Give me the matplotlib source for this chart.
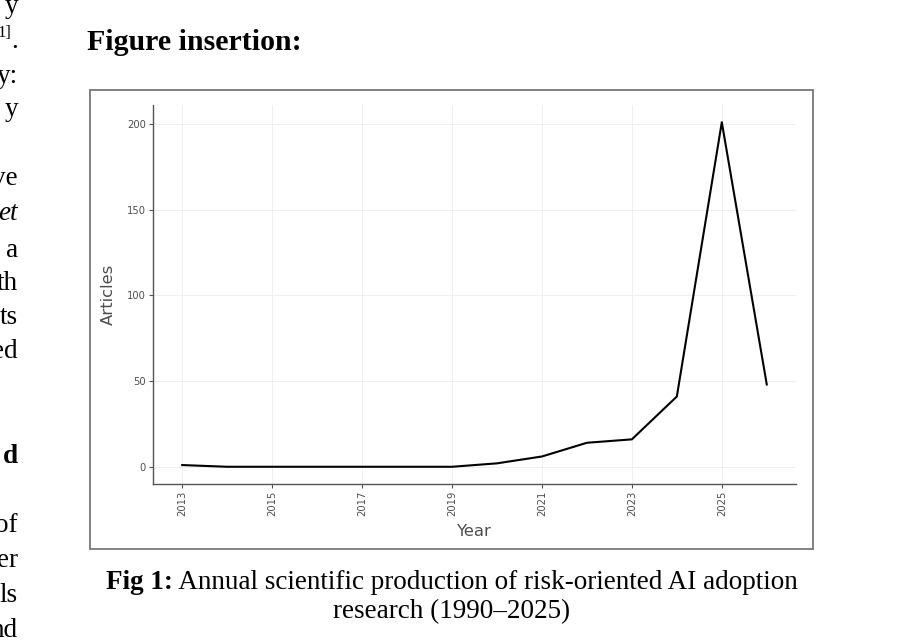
import matplotlib.pyplot as plt
import matplotlib.patches as patches

# data
years = [2013, 2014, 2015, 2016, 2017, 2018, 2019, 2020, 2021, 2022, 2023, 2024, 2025, 2026]
articles = [1, 0, 0, 0, 0, 0, 0, 2, 6, 14, 16, 41, 201, 48]
xticks = [2013, 2015, 2017, 2019, 2021, 2023, 2025]
yticks = [0, 50, 100, 150, 200]

W, H = 903, 640
serif = 'Liberation Serif'
gray = '#4d4d4d'
body = 19.5

fig = plt.figure(figsize=(W / 100, H / 100), dpi=100)
fig.patch.set_facecolor('white')

def fx(px):
    return px / W

def fy(py):
    return 1 - py / H

# cut-off body text on the left edge (right-aligned fragments)
left_lines = [
    (13, 'y', 'normal', 'normal'),
    (83, 'y:', 'normal', 'normal'),
    (116, 'y', 'normal', 'normal'),
    (185, 've', 'normal', 'normal'),
    (220, 'et', 'normal', 'italic'),
    (257, 'a', 'normal', 'normal'),
    (290, 'th', 'normal', 'normal'),
    (324, 'ts', 'normal', 'normal'),
    (358, 'ed', 'normal', 'normal'),
    (463, 'd', 'bold', 'normal'),
    (532, 'of', 'normal', 'normal'),
    (567, 'er', 'normal', 'normal'),
    (602, 'ls', 'normal', 'normal'),
    (637, 'nd', 'normal', 'normal'),
]
for py, s, w, st in left_lines:
    fig.text(fx(18), fy(py), s, ha='right', va='baseline', family=serif,
             fontsize=body, fontweight=w, fontstyle=st)
# superscript reference
fig.text(fx(11), fy(37), '1]', ha='right', va='baseline', family=serif, fontsize=12)
fig.text(fx(11.5), fy(48), '.', ha='left', va='baseline', family=serif, fontsize=body)

# heading
fig.text(fx(87), fy(50), 'Figure insertion:', ha='left', va='baseline', family=serif,
         fontsize=21.5, fontweight='bold')

# frame around the picture
box = patches.Rectangle((fx(90), fy(549)), fx(813) - fx(90), fy(90) - fy(549),
                        transform=fig.transFigure, fill=False, edgecolor='#777777',
                        linewidth=1.3)
fig.patches.append(box)

# chart
ax = fig.add_axes([fx(153), fy(484), fx(796) - fx(153), fy(105) - fy(484)])
ax.plot(years, articles, color='black', linewidth=1.5)
ax.set_xlim(2012.35, 2026.65)
ax.set_ylim(-10.05, 211.05)
ax.set_xticks(xticks)
ax.set_yticks(yticks)
ax.set_xticklabels([str(x) for x in xticks], rotation=90)
ax.grid(True, color='#ececec', linewidth=0.6)
ax.set_axisbelow(True)
for s in ['top', 'right']:
    ax.spines[s].set_visible(False)
for s in ['left', 'bottom']:
    ax.spines[s].set_color('#555555')
    ax.spines[s].set_linewidth(1.0)
ax.tick_params(colors='#555555', labelcolor=gray, labelsize=7.2, length=3, width=0.8, pad=2)

ax.set_xlabel('Year', fontsize=11.8, color=gray)
ax.set_ylabel('Articles', fontsize=11.8, color=gray)
ax.xaxis.set_label_coords((474.5 - 153) / 643, (484 - 531) / 379)
ax.xaxis.label.set_va('center')
ax.yaxis.set_label_coords((108 - 153) / 643, 0.5)
ax.yaxis.label.set_va('center')

# caption: bold "Fig 1:" followed by regular text, centred
fig.canvas.draw()
r = fig.canvas.get_renderer()
t1 = fig.text(0, 0, 'Fig 1:', family=serif, fontsize=body, fontweight='bold')
t2 = fig.text(0, 0, ' Annual scientific production of risk-oriented AI adoption',
              family=serif, fontsize=body)
w1 = t1.get_window_extent(r).width
w2 = t2.get_window_extent(r).width
x0 = 452 - (w1 + w2) / 2
t1.set_position((fx(x0), fy(589)))
t2.set_position((fx(x0 + w1), fy(589)))
t1.set_va('baseline')
t2.set_va('baseline')
fig.text(fx(452), fy(618), 'research (1990\u20132025)', ha='center', va='baseline',
         family=serif, fontsize=body)

fig.savefig('out.png', dpi=100)
